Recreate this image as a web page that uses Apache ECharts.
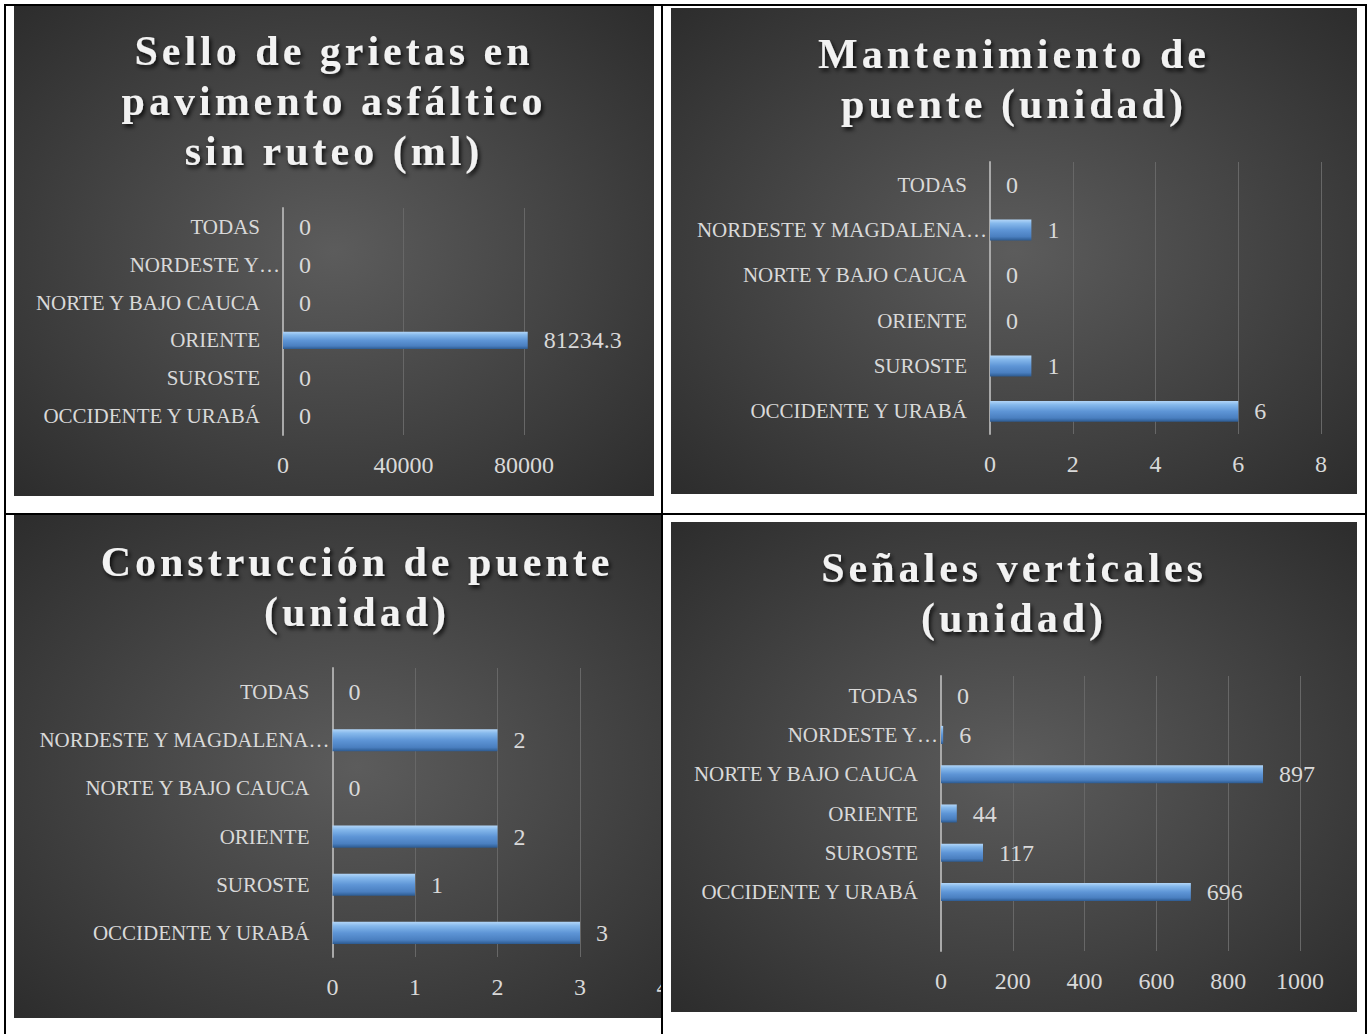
<!DOCTYPE html>
<html>
<head>
<meta charset="utf-8">
<script src="https://cdn.jsdelivr.net/npm/echarts@6/dist/echarts.min.js"></script>
<style>
html,body{margin:0;padding:0;background:#fff;width:1370px;height:1034px;overflow:hidden;position:relative}
.cell{position:absolute;overflow:hidden}
.chart{position:absolute;left:0;top:0}
.line{position:absolute;background:#000;z-index:5}
.chart svg text[style*="bold"]{letter-spacing:4px}
</style>
</head>
<body>
<div class="cell" style="left:14px;top:6px;width:640px;height:490px"><div id="c1" class="chart" style="width:640px;height:490px"></div></div>
<div class="cell" style="left:671px;top:8px;width:686px;height:486px"><div id="c2" class="chart" style="width:686px;height:486px"></div></div>
<div class="cell" style="left:14px;top:515px;width:647px;height:503px"><div id="c3" class="chart" style="width:686px;height:503px"></div></div>
<div class="cell" style="left:671px;top:522px;width:686px;height:490px"><div id="c4" class="chart" style="width:686px;height:490px"></div></div>

<div class="line" style="left:4px;top:4px;width:1363px;height:2px"></div>
<div class="line" style="left:4px;top:4px;width:2px;height:1030px"></div>
<div class="line" style="left:1365px;top:4px;width:2px;height:1030px"></div>
<div class="line" style="left:661px;top:4px;width:2px;height:1030px"></div>
<div class="line" style="left:4px;top:513px;width:1363px;height:2px"></div>

<script>
// ---- data ----
const regionsShort = ['OCCIDENTE Y URABÁ', 'SUROSTE', 'ORIENTE', 'NORTE Y BAJO CAUCA', 'NORDESTE Y…', 'TODAS'];
const regionsLong  = ['OCCIDENTE Y URABÁ', 'SUROSTE', 'ORIENTE', 'NORTE Y BAJO CAUCA', 'NORDESTE Y MAGDALENA…', 'TODAS'];
const regionsSenales = ['', 'OCCIDENTE Y URABÁ', 'SUROSTE', 'ORIENTE', 'NORTE Y BAJO CAUCA', 'NORDESTE Y…', 'TODAS'];

const selloValues = [0, 0, 81234.3, 0, 0, 0];
const mantenimientoValues = [6, 1, 0, 0, 1, 0];
const construccionValues = [3, 1, 2, 0, 2, 0];
const senalesValues = [null, 696, 117, 44, 897, 6, 0];

const selloTicks = [0, 40000, 80000, 120000];
const mantenimientoTicks = [0, 2, 4, 6, 8];
const construccionTicks = [0, 1, 2, 3, 4];
const senalesTicks = [0, 200, 400, 600, 800, 1000];

const titles = [
  'Sello de grietas en\npavimento asfáltico\nsin ruteo (ml)',
  'Mantenimiento de\npuente (unidad)',
  'Construcción de puente\n(unidad)',
  'Señales verticales\n(unidad)'
];

// ---- styling ----
const FONT = 'Liberation Serif';
const TXT = '#d9d9d9';
const bg = {
  type: 'radial', x: 0.5, y: 0.5, r: 0.8,
  colorStops: [{offset: 0, color: '#5c5c5c'}, {offset: 1, color: '#262626'}]
};
const barColor = {
  type: 'linear', x: 0, y: 0, x2: 0, y2: 1,
  colorStops: [
    {offset: 0, color: '#b3d6f8'},
    {offset: 0.18, color: '#86b9ec'},
    {offset: 0.5, color: '#5e95d6'},
    {offset: 0.82, color: '#4a7fc0'},
    {offset: 1, color: '#2c5a90'}
  ]
};

function build(o) {
  const t = o.ticks;
  return {
    animation: false,
    backgroundColor: bg,
    title: {
      text: o.title, left: 'center', top: o.titleTop,
      textStyle: {
        fontFamily: FONT, fontWeight: 'bold', fontSize: 42, lineHeight: 50, color: '#f2f2f2',
        textShadowColor: 'rgba(0,0,0,0.8)', textShadowBlur: 4, textShadowOffsetX: 2, textShadowOffsetY: 3
      }
    },
    grid: Object.assign({outerBoundsMode: 'none', containLabel: false}, o.grid),
    xAxis: {
      type: 'value', min: t[0], max: t[t.length - 1], interval: t[1] - t[0],
      axisLine: {show: false}, axisTick: {show: false},
      splitLine: {show: true, showMaxLine: o.showMax, lineStyle: {color: '#676767', width: 1}},
      axisLabel: {show: true, showMaxLabel: o.showMax, margin: 18, fontFamily: FONT, fontSize: 24, color: TXT,
        formatter: v => String(v)}
    },
    yAxis: {
      type: 'category', data: o.cats,
      axisLine: {show: true, lineStyle: {color: '#a9a9a9', width: 2}},
      axisTick: {show: false}, splitLine: {show: false},
      axisLabel: {
        margin: 3, interval: 0,
        formatter: v => v.endsWith('…') ? '{t|' + v + '}' : '{n|' + v + '}',
        rich: {
          n: {fontFamily: FONT, fontSize: 21, color: TXT, padding: [0, 20, 0, 0]},
          t: {fontFamily: FONT, fontSize: 21, color: TXT}
        }
      }
    },
    series: [{
      type: 'bar', data: o.values, barWidth: '46%',
      itemStyle: {color: barColor},
      label: {show: true, position: 'right', distance: 16, fontFamily: FONT, fontSize: 24, color: TXT,
        formatter: p => String(p.value)}
    }]
  };
}

const configs = [
  {id: 'c1', title: titles[0], titleTop: 15, cats: regionsShort, values: selloValues, ticks: selloTicks, showMax: false,
   grid: {left: 269, right: 9.5, top: 202, bottom: 61}},
  {id: 'c2', title: titles[1], titleTop: 16, cats: regionsLong, values: mantenimientoValues, ticks: mantenimientoTicks, showMax: true,
   grid: {left: 319, right: 36, top: 154, bottom: 60}},
  {id: 'c3', title: titles[2], titleTop: 17, cats: regionsLong, values: construccionValues, ticks: construccionTicks, showMax: true,
   grid: {left: 318.5, right: 37.5, top: 153, bottom: 61}},
  {id: 'c4', title: titles[3], titleTop: 16, cats: regionsSenales, values: senalesValues, ticks: senalesTicks, showMax: true,
   grid: {left: 270, right: 57, top: 154, bottom: 61}}
];

configs.forEach(c => {
  const chart = echarts.init(document.getElementById(c.id), null, {renderer: 'svg'});
  chart.setOption(build(c));
});
</script>
</body>
</html>
